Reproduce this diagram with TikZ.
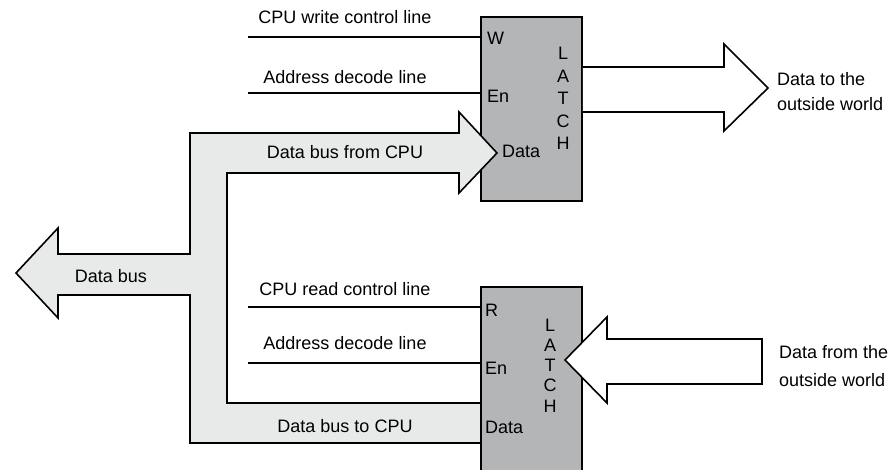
\documentclass[tikz,border=0pt]{standalone}
\usepackage{fontspec}
\setmainfont{Liberation Sans}
\usetikzlibrary{positioning}
\definecolor{latchgray}{RGB}{180,181,183}
\definecolor{busgray}{RGB}{232,234,234}
\tikzset{
  latch/.style={rectangle,draw=black,fill=latchgray,line width=1.6pt,
    minimum width=101pt,inner sep=0pt},
  bus/.style={draw=black,fill=busgray,line width=1.6pt,line join=miter},
  port/.style={draw=black,fill=white,line width=1.6pt,line join=miter},
  wire/.style={line width=1.6pt},
  lbl/.style={font=\fontsize{18}{21}\selectfont,inner sep=0pt,anchor=base},
  pin/.style={font=\fontsize{18}{21}\selectfont,inner sep=0pt,anchor=base west},
  stack/.style={inner sep=0pt,align=center,anchor=north},
  world/.style={inner sep=0pt,align=left,anchor=north west}
}

\begin{document}
\begin{tikzpicture}[x=1pt,y=-1pt]
  \useasboundingbox (0,0) rectangle (892,470);
  \clip (0,0) rectangle (892,470);
  % write latch, then the bus over it
  \node[latch,minimum height=184pt] (wl) at (531.5,109) {};
  \draw[bus] (459,133) -- (190,133) -- (190,254) -- (58,254) -- (58,228)
    -- (16,273) -- (58,318) -- (58,295) -- (190,295) -- (190,443)
    -- (484,443) -- (484,403) -- (227,403) -- (227,173) -- (459,173)
    -- (459,193) -- (497,153) -- (459,112) -- cycle;
  \node[latch,minimum height=188pt] (rl) at (531.5,381) {};
  % data to / from the outside world
  \draw[port] (wl.east |- 0,67) -- (724,67) -- (724,44) -- (768,88)
    -- (724,131) -- (724,112) -- (wl.east |- 0,112);
  \draw[port] (762,339) -- (607,339) -- (607,317) -- (565,360)
    -- (607,403) -- (607,384) -- (762,384) -- cycle;
  % control lines
  \coordinate (wsrc) at (248,37);
  \coordinate (wen) at (248,93);
  \coordinate (rsrc) at (248,307);
  \coordinate (ren) at (248,363);
  \draw[wire] (wsrc) -- (wsrc -| wl.west);
  \draw[wire] (wen) -- (wen -| wl.west);
  \draw[wire] (rsrc) -- (rsrc -| rl.west);
  \draw[wire] (ren) -- (ren -| rl.west);
  % labels
  \node[lbl] (wtxt) at (345,24) {CPU write control line};
  \node[lbl] (wentxt) at (345,84) {Address decode line};
  \node[lbl] (fromcpu) at (345,159) {Data bus from CPU};
  \node[lbl] (rtxt) at (345,296) {CPU read control line};
  \node[lbl] (rentxt) at (345,350) {Address decode line};
  \node[lbl] (tocpu) at (345,432) {Data bus to CPU};
  \node[lbl] (bustxt) at (111,283) {Data bus};
  \node[pin] (wpin) at (487,45) {W};
  \node[pin] (wenpin) at (487,103) {En};
  \node[pin] (wdpin) at (502,158) {Data};
  \node[pin] (rpin) at (485,317) {R};
  \node[pin] (renpin) at (485,375) {En};
  \node[pin] (rdpin) at (485,433) {Data};
  \node[stack,font=\fontsize{18}{22.5}\selectfont] (wname) at (563,47) {L\\A\\T\\C\\H};
  \node[stack,font=\fontsize{18}{20.3}\selectfont] (rname) at (550,318.5) {L\\A\\T\\C\\H};
  \node[world,font=\fontsize{18}{25}\selectfont] (outtxt) at (777,72) {Data to the\\outside world};
  \node[world,font=\fontsize{18}{28}\selectfont] (intxt) at (779,345) {Data from the\\outside world};
\end{tikzpicture}
\end{document}
